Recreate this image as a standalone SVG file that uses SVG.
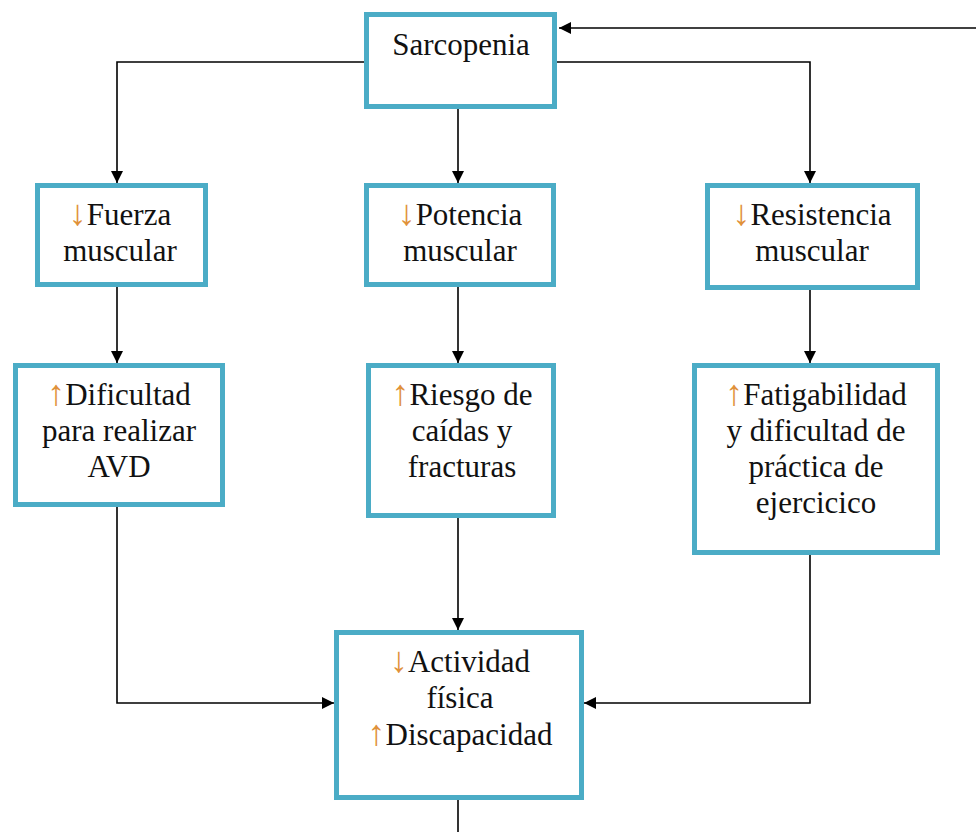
<svg xmlns="http://www.w3.org/2000/svg" width="976" height="832" viewBox="0 0 976 832">
<defs>
<marker id="ah" viewBox="0 0 12 12" refX="12" refY="6" markerWidth="12" markerHeight="12" markerUnits="userSpaceOnUse" orient="auto">
<path d="M0,0 L12,6 L0,12 z" fill="#000"/>
</marker>
</defs>
<style>
.box{fill:#fff;stroke:#4BACC6;stroke-width:5}
.t{font-family:"Liberation Serif","Times New Roman",serif;font-size:31px;fill:#111;text-anchor:middle}
.ar{fill:#E0913A;font-size:36px}
.c{fill:none;stroke:#000;stroke-width:1.6}
.ca{fill:none;stroke:#000;stroke-width:1.6;marker-end:url(#ah)}
</style>
<rect width="976" height="832" fill="#fff"/>
<g id="connectors">
<path class="ca" d="M976,28 L559,28"/>
<path class="ca" d="M364,62 L117,62 L117,183"/>
<path class="ca" d="M458,109 L458,183"/>
<path class="ca" d="M557,62 L810,62 L810,183"/>
<path class="ca" d="M117,287 L117,363"/>
<path class="ca" d="M458,287 L458,363"/>
<path class="ca" d="M810,290 L810,363"/>
<path class="ca" d="M117,507 L117,703 L334,703"/>
<path class="ca" d="M458,518 L458,630"/>
<path class="ca" d="M810,555 L810,703 L584,703"/>
<path class="c" d="M458,800 L458,832"/>
</g>
<g id="sarcopenia">
<rect class="box" x="366.5" y="14.5" width="188" height="92"/>
<text class="t" x="461" y="55">Sarcopenia</text>
</g>
<g id="fuerza">
<rect class="box" x="37.5" y="185.5" width="168" height="99"/>
<text class="t" x="120" y="225"><tspan class="ar">↓</tspan>Fuerza</text>
<text class="t" x="120" y="261">muscular</text>
</g>
<g id="potencia">
<rect class="box" x="366.5" y="185.5" width="187" height="99"/>
<text class="t" x="460" y="225"><tspan class="ar">↓</tspan>Potencia</text>
<text class="t" x="460" y="261">muscular</text>
</g>
<g id="resistencia">
<rect class="box" x="707.5" y="185.5" width="210" height="102"/>
<text class="t" x="812" y="225"><tspan class="ar">↓</tspan>Resistencia</text>
<text class="t" x="812" y="261">muscular</text>
</g>
<g id="dificultad">
<rect class="box" x="15.5" y="365.5" width="207" height="139"/>
<text class="t" x="119" y="405"><tspan class="ar">↑</tspan>Dificultad</text>
<text class="t" x="119" y="441">para realizar</text>
<text class="t" x="119" y="477">AVD</text>
</g>
<g id="riesgo">
<rect class="box" x="368.5" y="365.5" width="185" height="150"/>
<text class="t" x="462" y="405"><tspan class="ar">↑</tspan>Riesgo de</text>
<text class="t" x="462" y="441">caídas y</text>
<text class="t" x="462" y="477">fracturas</text>
</g>
<g id="fatigabilidad">
<rect class="box" x="694.5" y="365.5" width="243" height="187"/>
<text class="t" x="816" y="405"><tspan class="ar">↑</tspan>Fatigabilidad</text>
<text class="t" x="816" y="441">y dificultad de</text>
<text class="t" x="816" y="477">práctica de</text>
<text class="t" x="816" y="513">ejercicico</text>
</g>
<g id="actividad">
<rect class="box" x="336.5" y="632.5" width="245" height="165"/>
<text class="t" x="460" y="672"><tspan class="ar">↓</tspan>Actividad</text>
<text class="t" x="460" y="708">física</text>
<text class="t" x="460" y="745"><tspan class="ar">↑</tspan>Discapacidad</text>
</g>
</svg>
